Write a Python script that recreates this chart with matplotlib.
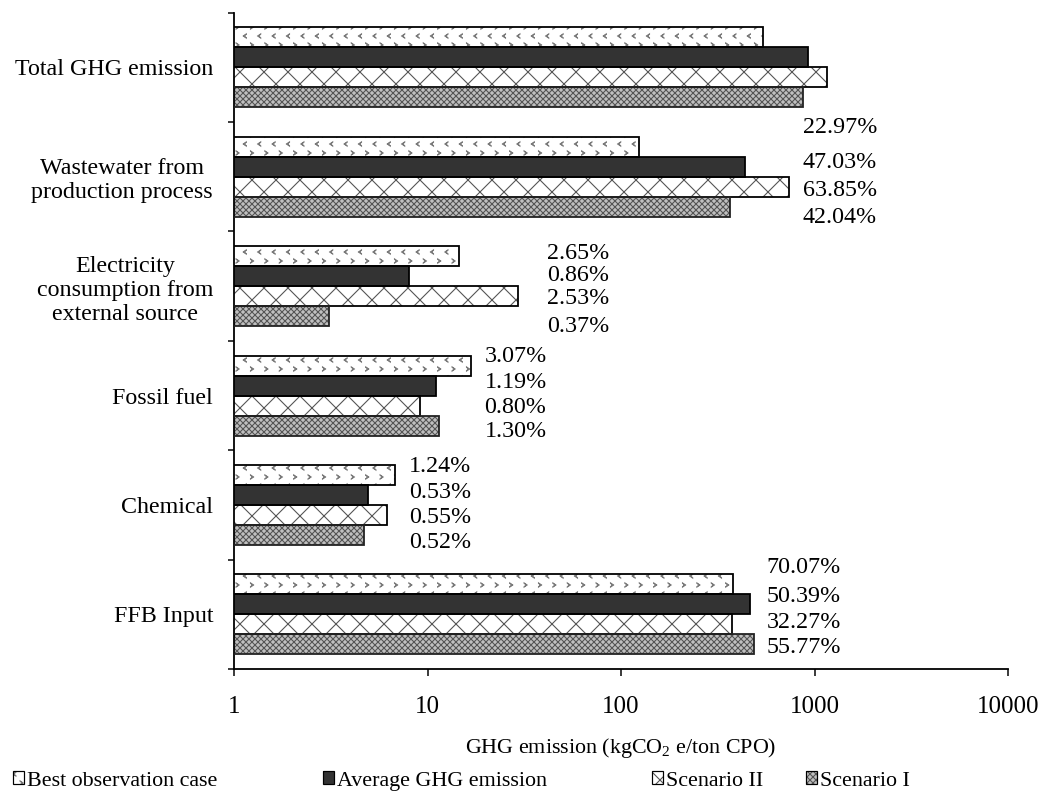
import numpy as np
import matplotlib
matplotlib.use("Agg")
import matplotlib.pyplot as plt
import matplotlib.hatch as mhatch
from matplotlib.path import Path
from matplotlib.patches import Patch
from matplotlib.legend_handler import HandlerTuple
from matplotlib.ticker import FixedLocator, FixedFormatter, NullFormatter

# ---- data -------------------------------------------------------------
categories = [
    "Total GHG emission",
    "Wastewater from\nproduction process",
    "Electricity\nconsumption from\nexternal source",
    "Fossil fuel",
    "Chemical",
    "FFB Input",
]
series_names = ["Best observation case", "Average GHG emission",
                "Scenario II", "Scenario I"]

# kgCO2e per ton CPO
best_case = [540, 124, 14.6, 16.8, 6.8, 378]
average_case = [925, 435, 8.0, 11.0, 4.9, 466]
scenario_2 = [1160, 740, 29.4, 9.2, 6.2, 374]
scenario_1 = [872, 366, 3.1, 11.5, 4.7, 486]

# share of the total for each source
share_best = ["", "22.97%", "2.65%", "3.07%", "1.24%", "70.07%"]
share_average = ["", "47.03%", "0.86%", "1.19%", "0.53%", "50.39%"]
share_s2 = ["", "63.85%", "2.53%", "0.80%", "0.55%", "32.27%"]
share_s1 = ["", "42.04%", "0.37%", "1.30%", "0.52%", "55.77%"]

x_ticks = [1, 10, 100, 1000, 10000]
x_tick_labels = ["1", "10", "100", "1000", "10000"]


# ---- chevron fill pattern used for the "best case" bars ('.' hatch) -----
class ChevronHatch(mhatch.HatchPatternBase):
    """Staggered rows of small chevrons, alternating '<' and '>'."""
    rows = 8
    cols = 5

    def __init__(self, hatch, density):
        n = hatch.count(".")
        left = np.array([[1.5, 2.1], [-1.5, 0.0], [1.5, -2.1], [1.5, -1.7],
                         [-0.7, 0.0], [1.5, 1.7], [1.5, 2.1]]) / 72.0
        self.shapes = (left, left * [-1, 1])
        self.shape_codes = np.full(len(left), Path.LINETO, dtype=Path.code_type)
        self.shape_codes[0] = Path.MOVETO
        self.shape_codes[-1] = Path.CLOSEPOLY
        if n == 0:
            self.num_vertices = 0
        else:
            count = 0
            for r in range(self.rows + 1):
                count += self.cols + 1 if r % 2 == 0 else self.cols
            self.num_vertices = count * len(left)

    def set_vertices_and_codes(self, vertices, codes):
        vparts, cparts = [], []
        for r in range(self.rows + 1):
            y = r / self.rows
            if r % 2 == 0:
                xs = np.linspace(0, 1, self.cols + 1)
            else:
                xs = (np.arange(self.cols) + 0.5) / self.cols
            shape = self.shapes[r % 2]
            for x in xs:
                vparts.append(shape + [x, y])
                cparts.append(self.shape_codes)
        np.concatenate(vparts, out=vertices)
        np.concatenate(cparts, out=codes)


mhatch._hatch_types[:] = [ChevronHatch if t is mhatch.SmallFilledCircles else t
                          for t in mhatch._hatch_types]

# ---- style ------------------------------------------------------------
plt.rcParams["font.family"] = ["Liberation Serif", "DejaVu Serif"]
plt.rcParams["mathtext.fontset"] = "custom"
plt.rcParams["mathtext.rm"] = "Liberation Serif"
plt.rcParams["mathtext.it"] = "Liberation Serif:italic"
plt.rcParams["hatch.linewidth"] = 1.1

DPI = 72
fig = plt.figure(figsize=(1045 / DPI, 801 / DPI), dpi=DPI)
ax = fig.add_axes([234 / 1045, 1 - 669 / 801, 774 / 1045, (669 - 12.7) / 801])

series = [best_case, average_case, scenario_2, scenario_1]
shares = [share_best, share_average, share_s2, share_s1]
styles = [
    dict(face="white", hatch=".", hcolor="#7a7a7a", edge="black"),
    dict(face="#333333", hatch=None, hcolor="#333333", edge="black"),
    dict(face="white", hatch="x", hcolor="#555555", edge="black"),
    dict(face="#c0c0c0", hatch="xxxx", hcolor="#555555", edge="#222222"),
]

bar_h = 0.183
y_base = list(range(len(categories)))

legend_handles = []
for k, (vals, st) in enumerate(zip(series, styles)):
    ypos = [y + (k - 1.5) * bar_h for y in y_base]
    ax.barh(ypos, vals, height=bar_h, color=st["face"], edgecolor=st["hcolor"],
            hatch=st["hatch"], linewidth=0, zorder=2)
    ax.barh(ypos, vals, height=bar_h, fill=False, edgecolor=st["edge"],
            linewidth=1.8, zorder=3)
    h1 = Patch(facecolor=st["face"], edgecolor=st["hcolor"], hatch=st["hatch"], linewidth=0)
    h2 = Patch(fill=False, edgecolor="black", linewidth=1.2)
    legend_handles.append((h1, h2))

# percentage annotations: x anchor per source and vertical offsets per series
label_x = [None, 870, 41.5, 19.7, 8.0, 564]
label_dy = [
    None,
    [-0.455, -0.134, 0.122, 0.369],
    [-0.303, -0.093, 0.117, 0.373],
    [-0.354, -0.116, 0.112, 0.332],
    [-0.348, -0.110, 0.118, 0.347],
    [-0.426, -0.161, 0.077, 0.306],
]
for i in range(1, len(categories)):
    for k in range(4):
        ax.text(label_x[i], y_base[i] + label_dy[i][k], shares[k][i],
                ha="left", va="center", fontsize=24, zorder=4)

# ---- axes -------------------------------------------------------------
ax.set_xscale("log")
ax.set_xlim(1, 10000)
ax.set_ylim(len(categories) - 0.5, -0.5)

ax.xaxis.set_major_locator(FixedLocator(x_ticks))
ax.xaxis.set_major_formatter(FixedFormatter(x_tick_labels))
ax.xaxis.set_minor_locator(FixedLocator([]))
ax.tick_params(axis="x", which="major", direction="out", length=7, width=1.5,
               labelsize=25, pad=20)

ax.set_yticks([y - 0.5 for y in range(len(categories) + 1)])
ax.yaxis.set_major_formatter(NullFormatter())
ax.set_yticks(y_base, minor=True)
ax.set_yticklabels(categories, minor=True)
ax.tick_params(axis="y", which="major", direction="out", length=6, width=1.5)
ax.tick_params(axis="y", which="minor", length=0, labelsize=24, pad=21)
for lab in ax.get_yticklabels(minor=True):
    lab.set_multialignment("center")
    lab.set_linespacing(1.2)

for side in ("top", "right"):
    ax.spines[side].set_visible(False)
for side in ("left", "bottom"):
    ax.spines[side].set_linewidth(1.8)

ax.set_xlabel("GHG emission (kgCO$_2$ e/ton CPO)", fontsize=22, labelpad=18)

# legend entries spread along the bottom edge
legend_x = [13, 323, 652, 806]
for handle, name, lx in zip(legend_handles, series_names, legend_x):
    fig.legend([handle], [name], handler_map={tuple: HandlerTuple(ndivide=1, pad=0)},
               loc="center left", bbox_to_anchor=(lx / 1045, 1 - 781 / 801),
               frameon=False, fontsize=22, handlelength=0.5, handleheight=0.5,
               handletextpad=0.15, borderaxespad=0, borderpad=0)

fig.savefig("out.png", dpi=DPI)
